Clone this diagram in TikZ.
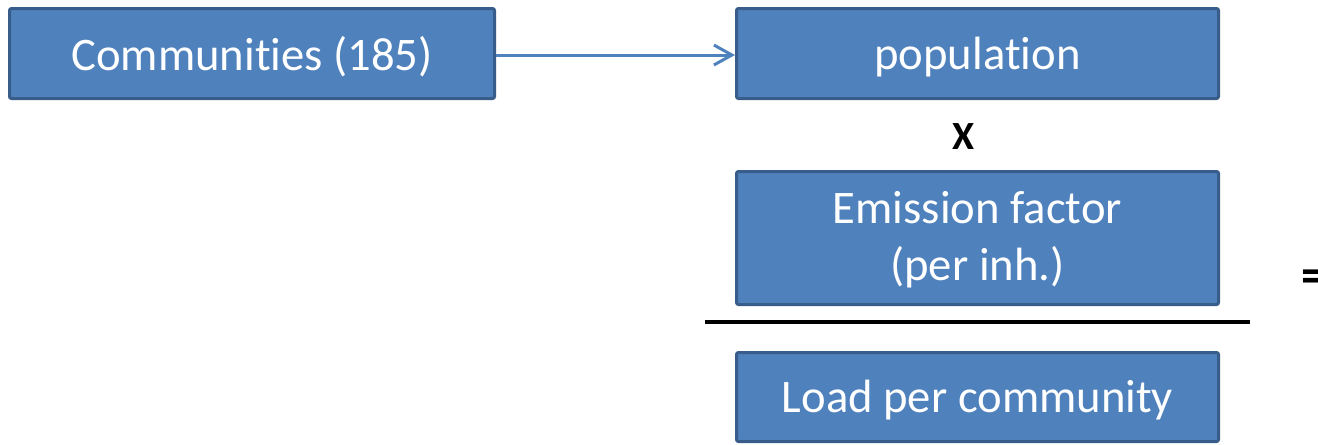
\documentclass[tikz,border=0pt]{standalone}
\usepackage{fontspec}
\setmainfont{Carlito}[RawFeature={-liga;-clig}]
\usetikzlibrary{arrows.meta}
\definecolor{boxfill}{HTML}{4F81BD}
\definecolor{boxline}{HTML}{385D8A}
\tikzset{
  box/.style={draw=boxline, fill=boxfill, line width=2.25pt, rounded corners=1.5pt},
  boxtext/.style={text=white, font=\fontsize{35pt}{43pt}\selectfont, align=center, inner sep=0pt},
  optext/.style={font=\fontsize{30pt}{36pt}\selectfont\bfseries, inner sep=0pt},
  link/.style={draw=boxfill, line width=2.25pt, -{Straight Barb[length=13.5pt,width=15pt,line width=2.25pt]}}
}
\begin{document}
\begin{tikzpicture}[x=0.75pt,y=-0.75pt]
\useasboundingbox (0,0) rectangle (1318,444);
% boxes
\draw[box] (9.5,8.5) rectangle (494.5,98.5);
\node[boxtext] (comm) at (252,57) {Communities (185)};
\coordinate (commE) at (496,55);
\draw[box] (736.5,8.5) rectangle (1218.5,98.5);
\node[boxtext] (pop) at (977.5,57) {population};
\coordinate (popW) at (735,55);
\draw[box] (736.5,171.5) rectangle (1218.5,304.5);
\node[boxtext] (emis) at (977.5,240) {Emission factor\\(per inh.)};
\draw[box] (736.5,352.5) rectangle (1218.5,441.5);
\node[boxtext] (load) at (977.5,400) {Load per community};
% operators
\node[optext] (times) at (964,137) {X};
\node[font=\fontsize{38pt}{44pt}\selectfont\bfseries, inner sep=0pt, anchor=base west] (eq) at (1301,292) {=};
% fraction line
\coordinate (lineL) at (705,322);
\coordinate (lineR) at (1250,322);
\draw[line width=3pt] (lineL) -- (lineR);
% arrow
\draw[link] (commE) -- (popW);
\end{tikzpicture}
\end{document}
